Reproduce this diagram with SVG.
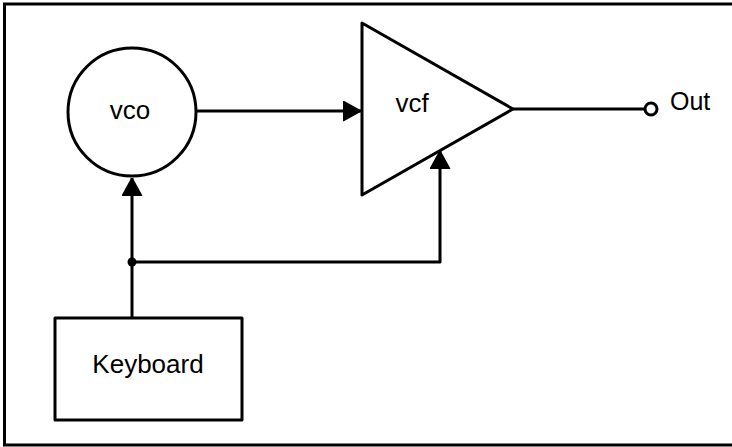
<svg xmlns="http://www.w3.org/2000/svg" width="732" height="447" viewBox="0 0 732 447">
<defs>
<style>
.ln{fill:none;stroke:#000;stroke-width:3;stroke-linejoin:round}
.sh{fill:#fff;stroke:#000;stroke-width:3;stroke-linejoin:round}
.t{font-family:"Liberation Sans",Arial,sans-serif;fill:#000}
</style>
<marker id="ah" viewBox="0 0 10 12" refX="10" refY="6" markerWidth="6" markerHeight="7" orient="auto" markerUnits="strokeWidth">
<path d="M0,0.5 L10,6 L0,11.5 Z" fill="#000" stroke="#000" stroke-width="0.8" stroke-linejoin="round"/>
</marker>
</defs>
<rect width="732" height="447" fill="#fff"/>
<path d="M732,4 H4.5 V445 H732" fill="none" stroke="#000" stroke-width="3"/>
<g id="connectors">
<path class="ln" d="M197,111 H361" marker-end="url(#ah)"/>
<path class="ln" d="M132,318 V178" marker-end="url(#ah)"/>
<path class="ln" d="M132,262 H440 V151" marker-end="url(#ah)"/>
<circle cx="132" cy="262" r="4.5" fill="#000"/>
<path class="ln" d="M513,109 H645"/>
<circle cx="651" cy="109" r="6" fill="#fff" stroke="#000" stroke-width="3"/>
</g>
<g id="vco">
<circle class="sh" cx="132" cy="112" r="64"/>
<text class="t" x="130" y="119" font-size="26" text-anchor="middle">vco</text>
</g>
<g id="vcf">
<path class="sh" d="M362,23 L513,109 L362,195 Z"/>
<text class="t" x="412" y="112" font-size="26" text-anchor="middle">vcf</text>
</g>
<g id="keyboard">
<rect class="sh" x="55" y="318" width="187" height="102"/>
<text class="t" x="148" y="373" font-size="26" text-anchor="middle">Keyboard</text>
</g>
<g id="out">
<text class="t" x="670" y="110" font-size="25">Out</text>
</g>
</svg>
